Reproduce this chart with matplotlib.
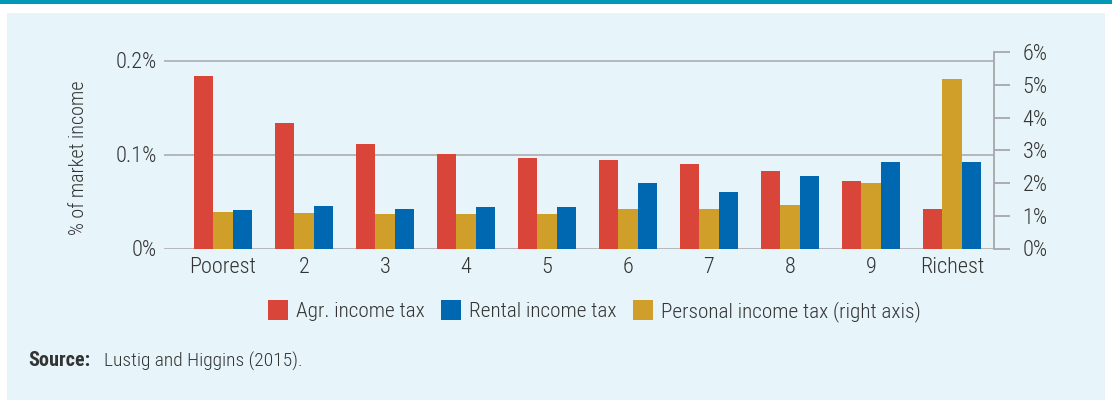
import matplotlib
matplotlib.use("Agg")
import matplotlib.pyplot as plt
from matplotlib.patches import Rectangle, Patch
import numpy as np

plt.rcParams['font.family'] = ['Roboto Condensed', 'DejaVu Sans']

# ---------------- data ----------------
categories = ["Poorest", "2", "3", "4", "5", "6", "7", "8", "9", "Richest"]
agr_income_tax = [0.184, 0.134, 0.111, 0.101, 0.096, 0.094, 0.090, 0.082, 0.072, 0.042]     # % (left axis)
rental_income_tax = [0.041, 0.045, 0.042, 0.044, 0.044, 0.070, 0.060, 0.077, 0.092, 0.092]  # % (left axis)
personal_income_tax = [1.11, 1.08, 1.05, 1.05, 1.05, 1.21, 1.21, 1.33, 2.00, 5.18]          # % (right axis)
left_ticks = [0, 0.1, 0.2]
left_ticklabels = ["0%", "0.1%", "0.2%"]
right_ticks = [0, 1, 2, 3, 4, 5, 6]
right_ticklabels = ["0%", "1%", "2%", "3%", "4%", "5%", "6%"]
legend_labels = ["Agr. income tax", "Rental income tax", "Personal income tax (right axis)"]

# ---------------- style ----------------
RED = "#da4539"
BLUE = "#0067b1"
GOLD = "#cf9f2a"
GRID = "#a6a8ab"
TEXT = "#333333"
PANEL = "#e7f4f9"
TEAL = "#0399b6"
FW = 300

W, H = 1112, 405
fig = plt.figure(figsize=(W / 100, H / 100), dpi=100)
fig.patch.set_facecolor("white")

# header bar and panel
fig.patches.append(Rectangle((0, 1 - 4 / H), 1, 4 / H, transform=fig.transFigure,
                             facecolor=TEAL, edgecolor="none", zorder=-10))
fig.patches.append(Rectangle((7 / W, 1 - 400 / H), (1105 - 7) / W, (400 - 13) / H,
                             transform=fig.transFigure, facecolor=PANEL,
                             edgecolor="none", zorder=-10))

ax_left, ax_right = 164, 993.7
ax_top, ax_bot = 52, 248.5
ax = fig.add_axes([ax_left / W, 1 - ax_bot / H, (ax_right - ax_left) / W, (ax_bot - ax_top) / H])
ax.set_facecolor("none")
ax2 = ax.twinx()
ax2.set_facecolor("none")

x = np.arange(len(categories))
bw = 0.24
ax.bar(x - bw, agr_income_tax, width=bw, color=RED, zorder=3)
ax.bar(x + bw, rental_income_tax, width=bw, color=BLUE, zorder=3)
ax2.bar(x, personal_income_tax, width=bw, color=GOLD, zorder=3)

ax.set_xlim(-0.728, 9.515)
ax.set_ylim(0, 0.1 * (ax_bot - ax_top) / 94.0)
ax2.set_ylim(0, 6)

ax.set_yticks(left_ticks)
ax.set_yticklabels(left_ticklabels, fontweight=FW)
ax.yaxis.grid(True, color=GRID, linewidth=1.1, zorder=0)
ax.set_axisbelow(True)
ax.tick_params(axis="y", length=0, pad=5.3, labelsize=16, labelcolor=TEXT)

ax.set_xticks(x)
ax.set_xticklabels(categories, fontweight=FW)
ax.tick_params(axis="x", length=0, pad=6, labelsize=16, labelcolor=TEXT)

for s in ax.spines.values():
    s.set_visible(False)
for name, s in ax2.spines.items():
    s.set_visible(name == "right")
ax2.spines["right"].set_color(GRID)
ax2.spines["right"].set_linewidth(1.3)

ax2.set_yticks(right_ticks)
ax2.set_yticklabels(right_ticklabels, fontweight=FW)
ax2.tick_params(axis="y", direction="out", length=11.7, width=1.3, color=GRID,
                pad=9, labelsize=16, labelcolor=TEXT)

# y label
fig.text(79 / W, 1 - 157.5 / H, "% of market income", rotation=90, ha="center",
         va="center", fontsize=14.5, color=TEXT, fontweight=FW)

# legend
handles = [Patch(facecolor=RED, edgecolor="none"),
           Patch(facecolor=BLUE, edgecolor="none"),
           Patch(facecolor=GOLD, edgecolor="none")]
fig.legend(handles, legend_labels, loc="center left",
           bbox_to_anchor=(268 / W, 1 - 311 / H), bbox_transform=fig.transFigure,
           ncol=3, frameon=False, labelcolor=TEXT,
           prop={"size": 15.3, "weight": FW},
           handlelength=0.95, handleheight=1.1, handletextpad=0.38,
           columnspacing=0.75, borderpad=0, borderaxespad=0)

# source
fig.text(28 / W, 1 - 361 / H, "Source:", fontsize=14.5, fontweight="bold",
         color=TEXT, ha="left", va="center")
fig.text(104 / W, 1 - 361 / H, "Lustig and Higgins (2015).", fontsize=14,
         color=TEXT, ha="left", va="center", fontweight=FW)

fig.savefig("out.png", dpi=100, facecolor=fig.get_facecolor())
